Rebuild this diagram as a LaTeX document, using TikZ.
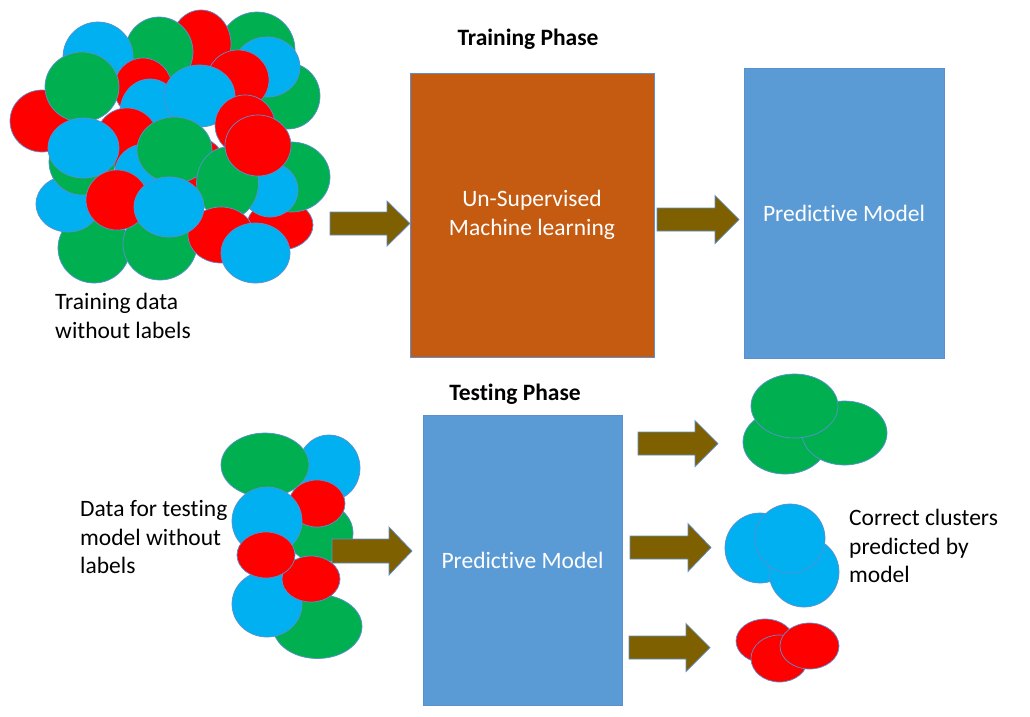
\documentclass[tikz,border=0pt]{standalone}
\usepackage{fontspec}
\setmainfont{Carlito}[Ligatures=NoCommon]
\definecolor{cBlue}{HTML}{00B0F0}
\definecolor{cGreen}{HTML}{00B050}
\definecolor{cRed}{HTML}{FF0000}
\definecolor{boxOrange}{HTML}{C55A11}
\definecolor{boxBlue}{HTML}{5B9BD5}
\definecolor{arrBrown}{HTML}{7F6000}
\definecolor{outl}{HTML}{5B8FD0}
\newcommand{\blob}[5]{\filldraw[fill=#1,draw=outl,line width=0.7pt] (#2,#3) ellipse [x radius=#4pt, y radius=#5pt];}
% start x, head base x, tip x, center y, shaft half, head half
\newcommand{\blockarr}[6]{\filldraw[fill=arrBrown,draw=outl,line width=0.7pt,line join=miter]
  (#1,#4-#5) -- (#2,#4-#5) -- (#2,#4-#6) -- (#3,#4) -- (#2,#4+#6) -- (#2,#4+#5) -- (#1,#4+#5) -- cycle;}
\tikzset{
  txt/.style={inner sep=0pt, font=\fontsize{23.5}{28.5}\selectfont, text=black},
  phase/.style={inner sep=0pt, font=\fontsize{23.5}{28.5}\selectfont\bfseries, text=black},
  bigbox/.style={draw=outl, line width=0.7pt, inner sep=0pt, text=white, align=center,
    font=\fontsize{23.5}{28.5}\selectfont},
}
\begin{document}
\begin{tikzpicture}[x=1pt,y=-1pt]
\useasboundingbox[fill=white] (0,0) rectangle (1030,716);

% ---- training data cluster ----
\blob{cGreen}{257}{50}{38}{38}
\blob{cGreen}{288}{96}{32}{33}
\blob{cRed}{201}{44}{30}{34}
\blob{cGreen}{159}{52}{34}{35}
\blob{cBlue}{98}{57}{35}{35}
\blob{cBlue}{267}{67}{33}{30}
\blob{cRed}{42}{121}{32}{31}
\blob{cRed}{143}{88}{29}{30}
\blob{cGreen}{82}{87}{37}{35}
\blob{cBlue}{150}{112}{30}{33}
\blob{cRed}{238}{80}{31}{30}
\blob{cBlue}{199.5}{96}{35.5}{31}
\blob{cRed}{245}{125}{30}{30}
\blob{cRed}{127}{139}{31}{31}
\blob{cBlue}{145}{172}{30}{28}
\blob{cRed}{195}{165}{30}{28}
\blob{cGreen}{174.5}{150}{37.5}{33}
\blob{cRed}{280}{225}{33}{25}
\blob{cGreen}{291.5}{177}{38.5}{35}
\blob{cBlue}{270}{190}{28}{27}
\blob{cGreen}{227.5}{183}{31}{36}
\blob{cRed}{258}{145.5}{33}{30.5}
\blob{cGreen}{94}{248}{36}{35}
\blob{cGreen}{160}{244}{37}{36}
\blob{cBlue}{68}{204}{32}{28}
\blob{cGreen}{82}{162}{33}{33}
\blob{cBlue}{83.5}{148}{35.5}{30}
\blob{cRed}{221}{235}{33}{28}
\blob{cBlue}{255.5}{253}{34.5}{30}
\blob{cRed}{117}{200}{31}{30}
\blob{cBlue}{169}{207}{35}{30}

% ---- testing data cluster ----
\blob{cBlue}{329}{468}{31}{33}
\blob{cGreen}{265}{465}{44}{32}
\blob{cGreen}{320}{533}{33}{30}
\blob{cRed}{317}{503.5}{28}{23.5}
\blob{cBlue}{267}{521}{35}{34}
\blob{cGreen}{317.5}{626.5}{44.5}{32}
\blob{cBlue}{267}{604}{35}{33}
\blob{cRed}{311}{579}{29}{23}
\blob{cRed}{266}{555}{29}{23}

% ---- result clusters ----
\blob{cGreen}{785}{442}{42}{32}
\blob{cGreen}{844.5}{433}{42.5}{32}
\blob{cGreen}{794.5}{406}{43.5}{32}
\blob{cBlue}{760}{548}{35}{35}
\blob{cBlue}{804}{572}{35}{35}
\blob{cBlue}{790}{538.5}{35}{34.5}
\blob{cRed}{765}{641}{29}{22}
\blob{cRed}{779.5}{658.5}{28.5}{23.5}
\blob{cRed}{809.5}{646}{29.5}{23}

% ---- boxes ----
\node[bigbox, fill=boxOrange, minimum width=244pt, minimum height=284pt] (usml) at (532,215)
  {Un-Supervised\\Machine learning};
\node[bigbox, fill=boxBlue, minimum width=200pt, minimum height=290pt] (pm1) at (844,213)
  {Predictive Model};
\node[bigbox, fill=boxBlue, minimum width=199pt, minimum height=290pt] (pm2) at (522.5,560)
  {Predictive Model};

% ---- arrows ----
\blockarr{330}{387}{410}{223.5}{11.5}{22.5}
\blockarr{657}{715}{739}{219.5}{11.5}{24}
\blockarr{332}{389}{412}{551}{12}{24}
\blockarr{638}{695}{718}{443.5}{11.5}{23}
\blockarr{630}{688}{711}{547.5}{11.5}{24}
\blockarr{629}{686}{710}{647.5}{11.5}{24}

% ---- labels ----
\node[phase] (trp) at (528,39) {Training Phase};
\node[phase] (tep) at (515,394) {Testing Phase};
\node[txt, anchor=west, align=left] (trd) at (55,316) {Training data\\without labels};
\node[txt, anchor=west, align=left] (ted) at (80,537) {Data for testing\\model without\\labels};
\node[txt, anchor=west, align=left] (cc) at (849,546) {Correct clusters\\predicted by\\model};
\end{tikzpicture}
\end{document}
